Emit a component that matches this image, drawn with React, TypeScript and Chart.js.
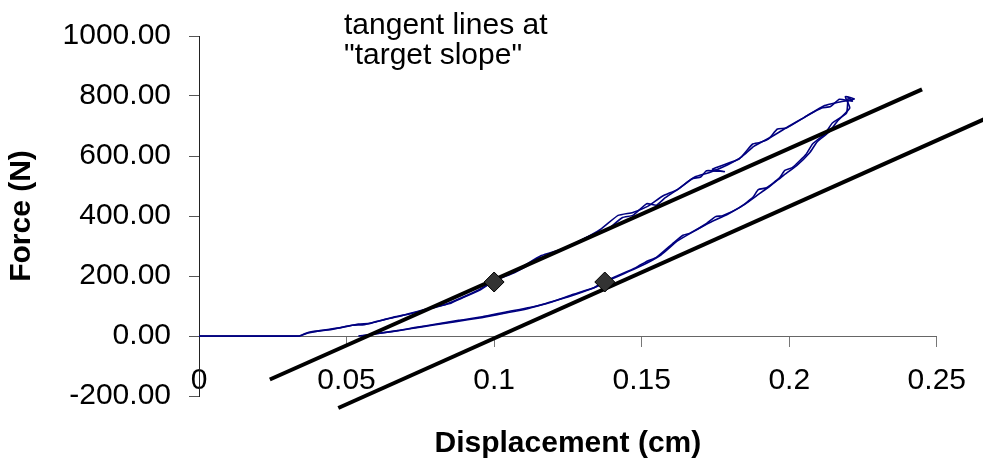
import { useEffect, useRef } from "react";
import { Chart, registerables } from "chart.js";

Chart.register(...registerables);

const FONT = "'Liberation Sans', Arial, sans-serif";

// Displacement (cm) / force (N) for the first load-unload cycle
const cycle1Disp = [
  0, 0.02, 0.034, 0.036, 0.038, 0.045, 0.052, 0.056, 0.06, 0.066, 0.072, 0.079, 0.083, 0.087,
  0.094, 0.1, 0.107, 0.112, 0.115, 0.122, 0.129, 0.134, 0.138, 0.1435, 0.147, 0.1517, 0.155,
  0.158, 0.163, 0.167, 0.17, 0.172, 0.178, 0.174, 0.183, 0.1876, 0.19, 0.193, 0.196, 0.199,
  0.2058, 0.208, 0.211, 0.214, 0.217, 0.2214, 0.22,
  0.2194, 0.2146, 0.212, 0.2079, 0.2058, 0.201, 0.1985, 0.1967, 0.1923, 0.1895, 0.1876, 0.1831,
  0.1774, 0.175, 0.172, 0.1662, 0.164, 0.1605, 0.155, 0.152, 0.148, 0.1374, 0.1334, 0.125,
  0.118, 0.111, 0.103, 0.0951, 0.087, 0.079, 0.072, 0.067, 0.062, 0.057, 0.054,
];
const cycle1Force = [
  0, 0, 0, 8, 14, 22, 36, 38, 48, 63, 75, 93, 103, 119,
  150, 183, 212, 238, 258, 283, 318, 340, 352, 395, 402, 441, 436,
  461, 494, 524, 530, 551, 548, 556, 590, 640, 645, 657, 690, 693,
  733, 745, 760, 765, 789, 783, 795,
  743, 710, 673, 640, 607, 561, 552, 527, 494, 488, 461, 428,
  401, 398, 375, 342, 336, 308, 262, 250, 228, 182, 159, 130,
  110, 90, 75, 60, 48, 36, 25, 17, 10, 3, 0,
];

// Second cycle, traced just beside the first
const cycle2Disp = [
  0, 0.034, 0.037, 0.041, 0.048, 0.054, 0.058, 0.063, 0.068, 0.074, 0.08, 0.085, 0.089,
  0.095, 0.101, 0.108, 0.116, 0.123, 0.13, 0.136, 0.142, 0.147, 0.152, 0.157, 0.162, 0.168,
  0.173, 0.179, 0.184, 0.188, 0.194, 0.2, 0.205, 0.212, 0.216, 0.222, 0.219,
  0.2205, 0.2165, 0.2135, 0.2095, 0.207, 0.2025, 0.198, 0.1935, 0.189, 0.1845, 0.179, 0.1735,
  0.1675, 0.162, 0.1565, 0.1495, 0.139, 0.1345, 0.126, 0.119, 0.112, 0.104, 0.096, 0.088,
  0.08, 0.073, 0.068, 0.063, 0.058, 0.055,
];
const cycle2Force = [
  0, 0, 10, 18, 28, 40, 42, 55, 66, 82, 97, 108, 126,
  152, 190, 222, 268, 290, 322, 355, 402, 412, 432, 466, 488, 530,
  545, 570, 598, 632, 664, 700, 728, 768, 778, 790, 798,
  760, 718, 680, 648, 612, 568, 535, 500, 468, 436, 405, 380,
  348, 316, 270, 232, 186, 163, 136, 112, 95, 80, 64, 52,
  39, 28, 19, 12, 5, 0,
];

// Tangent lines at the target slope: end points [disp, force]
const tangentLoad = [
  [0.024, -145],
  [0.245, 822],
];
const tangentUnload = [
  [0.0472, -240],
  [0.27, 740],
];

// Points where the target slope is met
const markerDisp = [0.1, 0.1375];
const markerForce = [180, 180];

const xTickLabels = ["0", "0.05", "0.1", "0.15", "0.2", "0.25"];
const yTickValues = [-200, 0, 200, 400, 600, 800, 1000];

const noteLines = ["tangent lines at", '"target slope"'];

const toPoints = (xs: number[], ys: number[]) => xs.map((x, i) => ({ x, y: ys[i] }));
const pairPoints = (pairs: number[][]) => pairs.map(([x, y]) => ({ x, y }));

const notePlugin = {
  id: "slopeNote",
  afterDraw(chart: any) {
    const { ctx, chartArea } = chart;
    ctx.save();
    ctx.fillStyle = "#000";
    ctx.font = `30px ${FONT}`;
    ctx.textAlign = "left";
    ctx.textBaseline = "alphabetic";
    noteLines.forEach((line, i) => {
      ctx.fillText(line, chartArea.left + 145, chartArea.top - 2 + i * 30);
    });
    ctx.restore();
  },
};

export default function App() {
  const canvasRef = useRef<HTMLCanvasElement | null>(null);

  useEffect(() => {
    if (!canvasRef.current) return;
    Chart.defaults.font.family = FONT;

    const chart = new Chart(canvasRef.current, {
      type: "scatter",
      data: {
        datasets: [
          {
            label: "target slope points",
            data: toPoints(markerDisp, markerForce),
            pointStyle: "rectRot",
            pointRadius: 10,
            backgroundColor: "#333333",
            borderColor: "#000000",
            borderWidth: 1,
            showLine: false,
            order: 0,
          },
          {
            label: "tangent (loading)",
            data: pairPoints(tangentLoad),
            showLine: true,
            borderColor: "#000000",
            borderWidth: 4,
            pointRadius: 0,
            clip: false,
            order: 1,
          },
          {
            label: "tangent (unloading)",
            data: pairPoints(tangentUnload),
            showLine: true,
            borderColor: "#000000",
            borderWidth: 4,
            pointRadius: 0,
            clip: false,
            order: 1,
          },
          {
            label: "cycle 1",
            data: toPoints(cycle1Disp, cycle1Force),
            showLine: true,
            borderColor: "#000080",
            borderWidth: 1.6,
            pointRadius: 0,
            tension: 0.15,
            order: 2,
          },
          {
            label: "cycle 2",
            data: toPoints(cycle2Disp, cycle2Force),
            showLine: true,
            borderColor: "#000080",
            borderWidth: 1.6,
            pointRadius: 0,
            tension: 0.15,
            order: 2,
          },
        ],
      } as any,
      options: {
        animation: false,
        responsive: false,
        layout: { padding: { left: 0, right: 46, top: 34, bottom: 72 } },
        plugins: {
          legend: { display: false },
          tooltip: { enabled: false },
        },
        scales: {
          x: {
            type: "linear",
            min: 0,
            max: 0.25,
            position: { y: 0 } as any,
            ticks: {
              stepSize: 0.05,
              padding: 17,
              color: "#000",
              maxRotation: 0,
              autoSkip: false,
              font: { family: FONT, size: 30 },
              callback: (_v: any, i: number) => xTickLabels[i],
            },
            grid: {
              display: true,
              drawOnChartArea: false,
              drawTicks: true,
              tickLength: 10,
              color: "#777777",
            },
            border: { display: true, color: "#666666", width: 1 },
            title: {
              display: true,
              text: "Displacement (cm)",
              color: "#000",
              font: { family: FONT, size: 30, weight: "bold" },
              padding: { top: 10, bottom: 0 },
            },
          },
          y: {
            type: "linear",
            min: yTickValues[0],
            max: yTickValues[yTickValues.length - 1],
            afterFit: (scale: any) => {
              scale.width = 199;
            },
            ticks: {
              stepSize: 200,
              padding: 18,
              color: "#000",
              font: { family: FONT, size: 30 },
              callback: (v: any) => Number(v).toFixed(2),
            },
            grid: {
              display: true,
              drawOnChartArea: false,
              drawTicks: true,
              tickLength: 10,
              color: "#555555",
            },
            border: { display: true, color: "#222222", width: 1 },
            title: {
              display: true,
              text: "Force (N)",
              color: "#000",
              font: { family: FONT, size: 30, weight: "bold" },
              padding: { top: 4, bottom: 0 },
            },
          },
        },
      } as any,
      plugins: [notePlugin],
    });

    return () => chart.destroy();
  }, []);

  return (
    <div
      style={{
        position: "fixed",
        left: 0,
        top: 0,
        width: 983,
        height: 468,
        background: "#ffffff",
      }}
    >
      <canvas ref={canvasRef} width={983} height={468} style={{ display: "block" }} />
    </div>
  );
}
